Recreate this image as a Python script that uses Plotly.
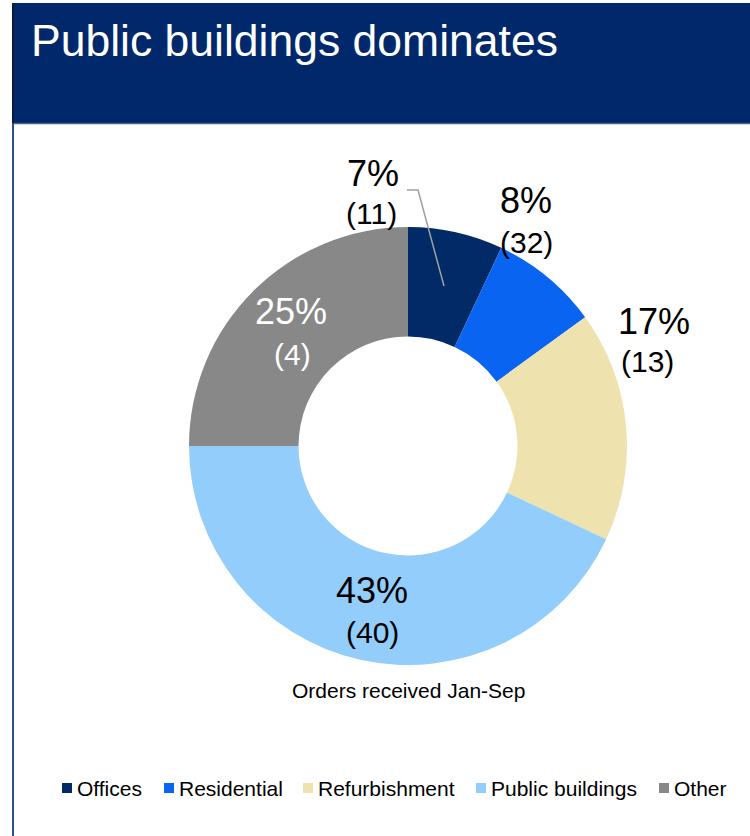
import plotly.graph_objects as go

# Order intake by segment, Jan-Sep
segments = ["Offices", "Residential", "Refurbishment", "Public buildings", "Other"]
share_pct = [7, 8, 17, 43, 25]
order_count = [11, 32, 13, 40, 4]
colors = ["#012A66", "#0A64F2", "#EEE2AF", "#92CDFC", "#888888"]
label_colors = ["#000000", "#000000", "#000000", "#000000", "#FFFFFF"]

W, H = 750, 836
FONT = "Liberation Sans, Arial, sans-serif"


def px(x):
    return x / W


def py(y):
    return 1 - y / H


# label anchor points (pixel centres): percentage line and count line
pct_pos = [(373, 173), (526, 200), (654, 321), (372, 590), (291, 312)]
cnt_pos = [(371, 213), (526, 242), (647, 361), (372, 632), (292, 354)]
# left edge of each legend swatch
legend_x = [62, 164, 303, 476, 659]
LEGEND_Y = 788

fig = go.Figure(
    go.Pie(
        labels=segments,
        values=share_pct,
        customdata=order_count,
        hole=0.5,
        sort=False,
        direction="clockwise",
        rotation=0,
        marker=dict(colors=colors, line=dict(width=0)),
        textinfo="none",
        hoverinfo="label+value",
        domain=dict(x=[px(189), px(627)], y=[py(665), py(227)]),
        showlegend=False,
    )
)

annotations = []
shapes = [
    # title band
    dict(type="rect", xref="paper", yref="paper", x0=px(13), x1=1, y0=py(123), y1=py(3),
         fillcolor="#01286A", line=dict(width=0), layer="below"),
    dict(type="line", xref="paper", yref="paper", x0=px(13), x1=1, y0=py(123.5), y1=py(123.5),
         line=dict(color="#4E5F88", width=1.5)),
    dict(type="line", xref="paper", yref="paper", x0=px(13), x1=px(13), y0=py(123), y1=py(3),
         line=dict(color="#0C1A3E", width=2)),
    # panel frame on the left
    dict(type="line", xref="paper", yref="paper", x0=px(13), x1=px(13), y0=0, y1=py(123),
         line=dict(color="#2F4F8F", width=2)),
    # leader line for the Offices label
    dict(type="path", xref="paper", yref="paper",
         path=f"M{px(407)},{py(190)} L{px(418)},{py(190)} L{px(444)},{py(286)}",
         line=dict(color="#A0A0A0", width=1.5)),
]

for i in range(len(segments)):
    annotations.append(dict(
        x=px(pct_pos[i][0]), y=py(pct_pos[i][1]), xref="paper", yref="paper",
        text=f"{share_pct[i]}%", showarrow=False, xanchor="center", yanchor="middle",
        font=dict(family=FONT, size=36, color=label_colors[i]),
    ))
    annotations.append(dict(
        x=px(cnt_pos[i][0]), y=py(cnt_pos[i][1]), xref="paper", yref="paper",
        text=f"({order_count[i]})", showarrow=False, xanchor="center", yanchor="middle",
        font=dict(family=FONT, size=30, color=label_colors[i]),
    ))
    # legend entry: swatch + name
    x0 = legend_x[i]
    shapes.append(dict(
        type="rect", xref="paper", yref="paper",
        x0=px(x0), x1=px(x0 + 10), y0=py(LEGEND_Y + 5), y1=py(LEGEND_Y - 5),
        fillcolor=colors[i], line=dict(width=0),
    ))
    annotations.append(dict(
        x=px(x0 + 13), y=py(LEGEND_Y), xref="paper", yref="paper",
        text=segments[i], showarrow=False, xanchor="left", yanchor="middle",
        font=dict(family=FONT, size=21, color="#000000"),
    ))

# slide title
annotations.append(dict(
    x=px(29), y=py(40), xref="paper", yref="paper", text="Public buildings dominates",
    showarrow=False, xanchor="left", yanchor="middle",
    font=dict(family=FONT, size=44.5, color="#FFFFFF"),
))
# chart caption under the donut
annotations.append(dict(
    x=px(408), y=py(690), xref="paper", yref="paper", text="Orders received Jan-Sep",
    showarrow=False, xanchor="center", yanchor="middle",
    font=dict(family=FONT, size=21, color="#000000"),
))

fig.update_layout(
    width=W, height=H,
    margin=dict(l=0, r=0, t=0, b=0),
    paper_bgcolor="#FFFFFF",
    plot_bgcolor="#FFFFFF",
    showlegend=False,
    annotations=annotations,
    shapes=shapes,
)

fig.write_html("out.html")
